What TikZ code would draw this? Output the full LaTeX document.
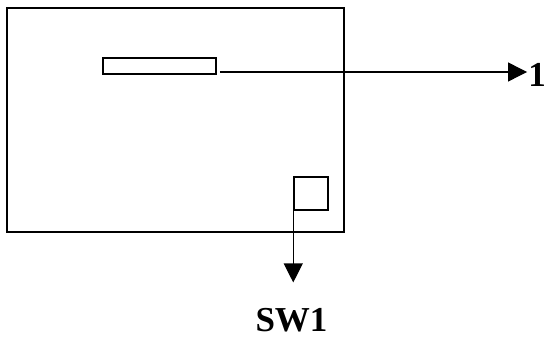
\documentclass[tikz,border=0pt]{standalone}
\usepackage{fontspec}
\setmainfont{Liberation Serif}
\usetikzlibrary{arrows.meta,positioning}

\begin{document}
\begin{tikzpicture}[x=1pt,y=-1pt,>={Triangle[length=19pt,width=19pt]},
		box/.style={draw,line width=1.5pt,inner sep=0,minimum width=#1},
		lbl/.style={font=\fontsize{35}{42}\selectfont\bfseries,inner sep=0}]
		%\draw [help lines] (0,0) grid (547,339);
		\useasboundingbox (0,0) rectangle (547,339);
		\node [box=337pt,line width=2pt,minimum height=224pt] (board) at (175.5,120) {};
		\node [box=113pt,minimum height=16pt] (port) at (159.5,66) {};
		\node [box=34pt,minimum height=33pt] (sw) at (311,193.5) {};
		\node [lbl] (one) at (537,75) {1};
		\node [lbl] (swlbl) at (291.5,320.5) {SW1};
		\coordinate (p1) at ([shift={(3,6)}]port.east);
		\coordinate (p2) at ([shift={(0,-8)}]sw.south west);
		\draw [->,line width=1.2pt] (p1) -- ([xshift=-1pt]p1 -| one.west);
		\draw [->,line width=1.2pt] (p2) -- ([shift={(0,-26)}]p2 |- swlbl.north);
	\end{tikzpicture}
\end{document}
